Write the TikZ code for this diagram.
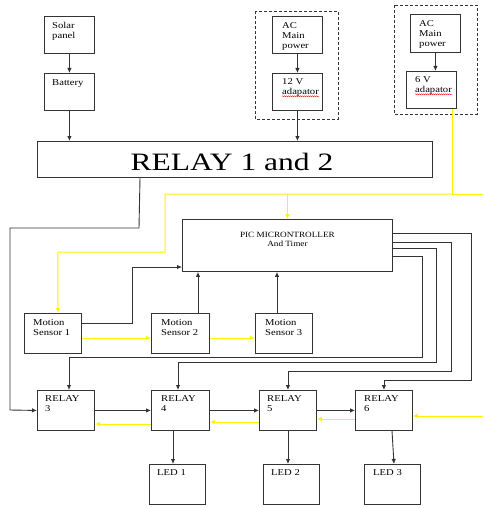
\documentclass[tikz,border=0pt]{standalone}
\usepackage{fontspec}
\setmainfont{Liberation Serif}
\usetikzlibrary{arrows.meta}
\usetikzlibrary{decorations.pathmorphing}

\begin{document}
\begin{tikzpicture}[x=1pt,y=-1pt,
  blk/.style={draw=black!80, line width=0.9pt, rectangle, inner sep=0pt, anchor=north west},
  lbl/.style={inner sep=0pt, anchor=north west, align=left, font=\fontsize{9}{10}\selectfont, xscale=1.18},
  wire/.style={draw=black!80, line width=0.9pt},
  arr/.style={wire, -{Latex[length=5pt,width=4.5pt]}},
  ywire/.style={draw=yellow, line width=1pt},
  yarr/.style={ywire, -{Latex[length=5pt,width=4.5pt]}},
  dbox/.style={draw=black!80, line width=0.8pt, dash pattern=on 3pt off 2pt},
  squig/.style={draw=red, line width=0.4pt, decorate, decoration={snake, amplitude=0.5pt, segment length=2pt}}]
  \useasboundingbox (0,0) rectangle (483,508);

  % power sources
  \node[blk, minimum width=50pt, minimum height=37pt] (sol) at (44,16) {};
  \node[lbl] (sol-t) at ([shift={(8,6)}]sol.north west) {Solar\\panel};
  \node[blk, minimum width=50pt, minimum height=37pt] (bat) at (44,73) {};
  \node[lbl] (bat-t) at ([shift={(8,6)}]bat.north west) {Battery};

  \draw[dbox] (255,11) rectangle (338,119);
  \node[blk, minimum width=50pt, minimum height=37pt] (ac1) at (272,16) {};
  \node[lbl] (ac1-t) at ([shift={(10,6)}]ac1.north west) {AC\\Main\\power};
  \node[blk, minimum width=50pt, minimum height=37pt] (ad12) at (272,73) {};
  \node[lbl] (ad12-t) at ([shift={(10,5)}]ad12.north west) {12 V\\adapator};
  \draw[squig] (ad12-t.south west) -- (ad12-t.south east);

  \draw[dbox] (394,5) rectangle (477,114);
  \node[blk, minimum width=50pt, minimum height=38pt] (ac2) at (410,14) {};
  \node[lbl] (ac2-t) at ([shift={(9,6)}]ac2.north west) {AC\\Main\\power};
  \node[blk, minimum width=50pt, minimum height=37pt] (ad6) at (406,71) {};
  \node[lbl] (ad6-t) at ([shift={(9,5)}]ad6.north west) {6 V\\adapator};
  \draw[squig] (ad6-t.south west) -- (ad6-t.south east);

  % main relay and controller
  \node[blk, minimum width=395pt, minimum height=36pt] (r12) at (37,141) {};
  \node[inner sep=0pt, font=\fontsize{25}{25}\selectfont, xscale=1.26] (r12-t) at ([shift={(-3,2)}]r12.center) {RELAY 1 and 2};
  \node[blk, minimum width=210pt, minimum height=52pt] (pic) at (182,219) {};
  \node[inner sep=0pt, anchor=north, align=center, font=\fontsize{8}{9}\selectfont, xscale=1.15] (pic-t) at ([shift={(0,13)}]pic.north) {PIC MICRONTROLLER\\And Timer};

  % motion sensors
  \node[blk, minimum width=57pt, minimum height=40pt] (ms1) at (24,313) {};
  \node[lbl] (ms1-t) at ([shift={(9,6)}]ms1.north west) {Motion\\Sensor 1};
  \node[blk, minimum width=58pt, minimum height=40pt] (ms2) at (151,313) {};
  \node[lbl] (ms2-t) at ([shift={(10,6)}]ms2.north west) {Motion\\Sensor 2};
  \node[blk, minimum width=57pt, minimum height=40pt] (ms3) at (255,313) {};
  \node[lbl] (ms3-t) at ([shift={(10,6)}]ms3.north west) {Motion\\Sensor 3};

  % relays 3 to 6
  \node[blk, minimum width=57pt, minimum height=40pt] (r3) at (37,390) {};
  \node[lbl] (r3-t) at ([shift={(8,5)}]r3.north west) {RELAY\\3};
  \node[blk, minimum width=58pt, minimum height=40pt] (r4) at (151,390) {};
  \node[lbl] (r4-t) at ([shift={(10,5)}]r4.north west) {RELAY\\4};
  \node[blk, minimum width=57pt, minimum height=40pt] (r5) at (259,390) {};
  \node[lbl] (r5-t) at ([shift={(8,5)}]r5.north west) {RELAY\\5};
  \node[blk, minimum width=57pt, minimum height=40pt] (r6) at (355,390) {};
  \node[lbl] (r6-t) at ([shift={(9,5)}]r6.north west) {RELAY\\6};

  % leds
  \node[blk, minimum width=56pt, minimum height=40pt] (led1) at (149,464) {};
  \node[lbl] (led1-t) at ([shift={(8,5)}]led1.north west) {LED 1};
  \node[blk, minimum width=56pt, minimum height=40pt] (led2) at (263,464) {};
  \node[lbl] (led2-t) at ([shift={(8,5)}]led2.north west) {LED 2};
  \node[blk, minimum width=56pt, minimum height=40pt] (led3) at (364,464) {};
  \node[lbl] (led3-t) at ([shift={(9,5)}]led3.north west) {LED 3};

  % supply lines
  \draw[arr] (sol) -- (bat);
  \draw[arr] (bat.south) -- (bat.south |- r12.north);
  \draw[arr] (ac1) -- (ad12);
  \draw[arr] (ad12.south) -- (ad12.south |- r12.north);
  \draw[arr] (ac2.south) -- (ac2.south |- ad6.north);

  \coordinate (yb) at (452,194);
  \draw[ywire] (ad6.south -| yb) -- (yb) -- (483,194);
  \draw[yarr] (yb) -- (165,194) -- (165,252) -- (58,252) -- ([shift={(5,0)}]ms1.north);
  \draw[yarr] (pic.north |- yb) -- (pic.north);

  \draw[arr] (r12.south -| 140,0) -- (139,228) -- (10,228) -- (10,410) -- (r3.west);

  % controller outputs
  \draw[arr] (pic.east |- 0,233) -- (471,233) -- (471,380) -- (r6.north |- 0,380) -- (r6.north);
  \draw[arr] (pic.east |- 0,242) -- (451,242) -- (451,371) -- (r5.north |- 0,371) -- (r5.north);
  \draw[arr] (pic.east |- 0,248) -- (436,248) -- (436,362) -- (178,362) -- (r4.north -| 178,0);
  \draw[arr] (pic.east |- 0,256) -- (422,256) -- (422,357) -- (69,357) -- (r3.north -| 69,0);

  % sensors to controller
  \draw[arr] (ms1.east |- 0,323) -- (132,323) -- (132,267) -- (pic.west |- 0,267);
  \draw[arr] (ms2.north -| 198,0) -- (pic.south -| 198,0);
  \draw[arr] (ms3.north -| 277,0) -- (pic.south -| 277,0);
  \draw[yarr] (ms1.east |- 0,338) -- (ms2.west |- 0,338);
  \draw[yarr] (ms2.east |- 0,338) -- (ms3.west |- 0,338);

  % relay chain
  \draw[arr] (r3) -- (r4);
  \draw[arr] (r4) -- (r5);
  \draw[arr] (r5) -- (r6);
  \draw[yarr] (r4.west |- 0,424) -- (r3.east |- 0,424);
  \draw[yarr] (r5.west |- 0,422) -- (r4.east |- 0,422);
  \draw[yarr] (r6.west |- 0,419) -- (r5.east |- 0,419);
  \draw[yarr] (483,416) -- (r6.east |- 0,416);

  \draw[arr] (r4.south -| 173,0) -- (led1.north -| 173,0);
  \draw[arr] (r5.south -| 288,0) -- (led2.north -| 288,0);
  \draw[arr] (r6.south -| 392,0) -- (led3.north -| 394,0);
\end{tikzpicture}
\end{document}
